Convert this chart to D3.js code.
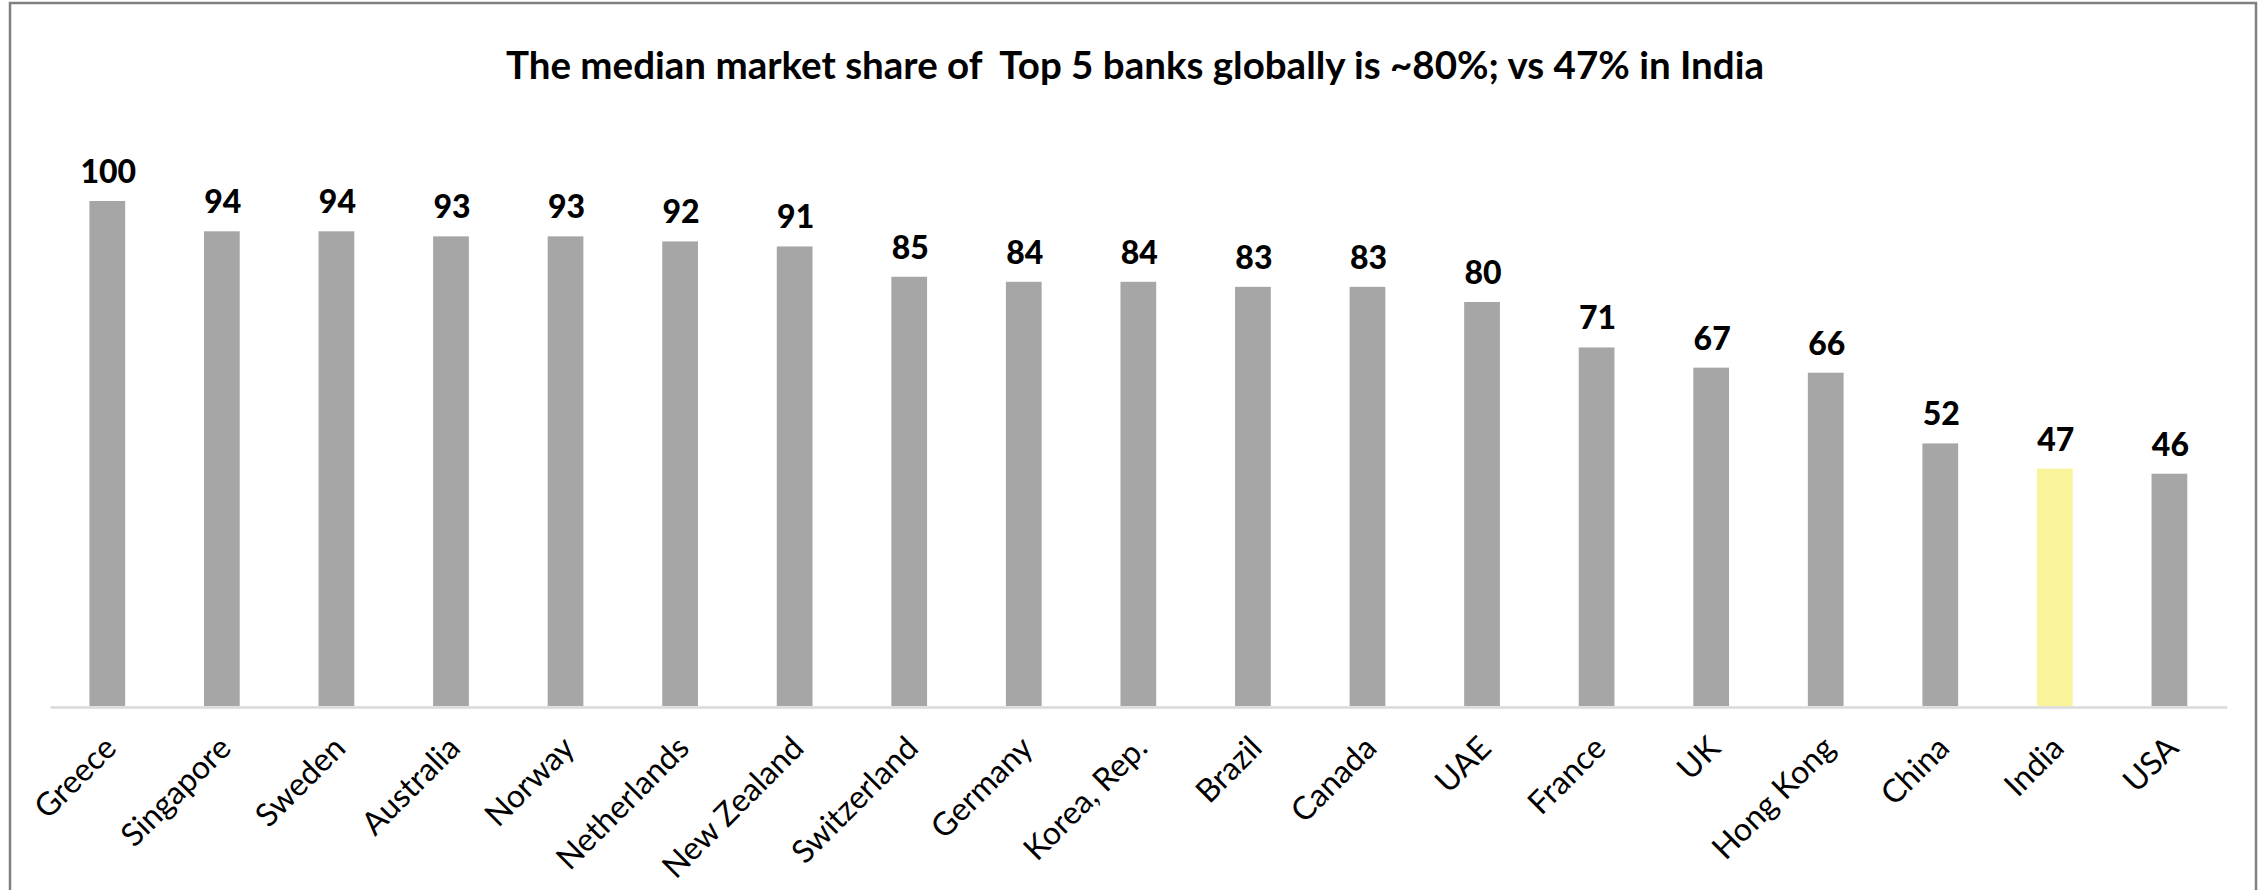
<!DOCTYPE html>
<html>
<head>
<meta charset="utf-8">
<script src="https://cdn.jsdelivr.net/npm/d3@7"></script>
<style>
  html, body { margin: 0; padding: 0; background: #fff; }
  svg { display: block; }
</style>
</head>
<body>
<svg id="chart" width="2267" height="890"></svg>
<script>
const title = "The median market share of  Top 5 banks globally is ~80%; vs 47% in India";
const countries = ["Greece","Singapore","Sweden","Australia","Norway","Netherlands","New Zealand","Switzerland","Germany","Korea, Rep.","Brazil","Canada","UAE","France","UK","Hong Kong","China","India","USA"];
const shares = [100,94,94,93,93,92,91,85,84,84,83,83,80,71,67,66,52,47,46];
const highlight = ["India"];

const W = 2267, H = 890;
const svg = d3.select("#chart");

// frame
svg.append("rect")
  .attr("x", 10).attr("y", 3)
  .attr("width", 2246).attr("height", 900)
  .attr("fill", "#fff").attr("stroke", "#808080").attr("stroke-width", 2.5);

const x = d3.scaleBand().domain(countries).range([50, 2226.7])
  .paddingInner(0.688).paddingOuter(0.344);
const y = d3.scaleLinear().domain([0, 100]).range([706, 201]);

// title
svg.append("text")
  .attr("x", 1135).attr("y", 79)
  .attr("text-anchor", "middle")
  .attr("font-family", "Lato, 'Open Sans', sans-serif")
  .attr("font-weight", 700)
  .attr("font-size", 38.5)
  .attr("fill", "#000")
  .attr("xml:space", "preserve")
  .text(title);

// bars
svg.append("g").selectAll("rect")
  .data(countries)
  .join("rect")
  .attr("x", d => x(d))
  .attr("width", x.bandwidth())
  .attr("y", (d, i) => y(shares[i]))
  .attr("height", (d, i) => y(0) - y(shares[i]))
  .attr("fill", d => highlight.includes(d) ? "#f9f49a" : "#a6a6a6");

// axis line
const xAxis = d3.axisBottom(x).tickSize(0).tickFormat("");
const gx = svg.append("g").attr("transform", `translate(0,${y(0) + 1})`).call(xAxis);
gx.select(".domain").attr("stroke", "#d9d9d9").attr("stroke-width", 2.5);

// value labels
svg.append("g").selectAll("text")
  .data(countries)
  .join("text")
  .attr("x", d => x(d) + x.bandwidth() / 2 + 1)
  .attr("y", (d, i) => y(shares[i]) - 18)
  .attr("text-anchor", "middle")
  .attr("font-family", "Lato, 'Open Sans', sans-serif")
  .attr("font-weight", 900)
  .attr("font-size", 32)
  .attr("fill", "#000")
  .text((d, i) => shares[i]);

// category labels
svg.append("g").selectAll("text")
  .data(countries)
  .join("text")
  .attr("transform", d => `translate(${x(d) + x.bandwidth() / 2 + 11},750) rotate(-45)`)
  .attr("text-anchor", "end")
  .attr("font-family", "Lato, 'Open Sans', sans-serif")
  .attr("font-size", 32)
  .attr("fill", "#000")
  .text(d => d);
</script>
</body>
</html>
